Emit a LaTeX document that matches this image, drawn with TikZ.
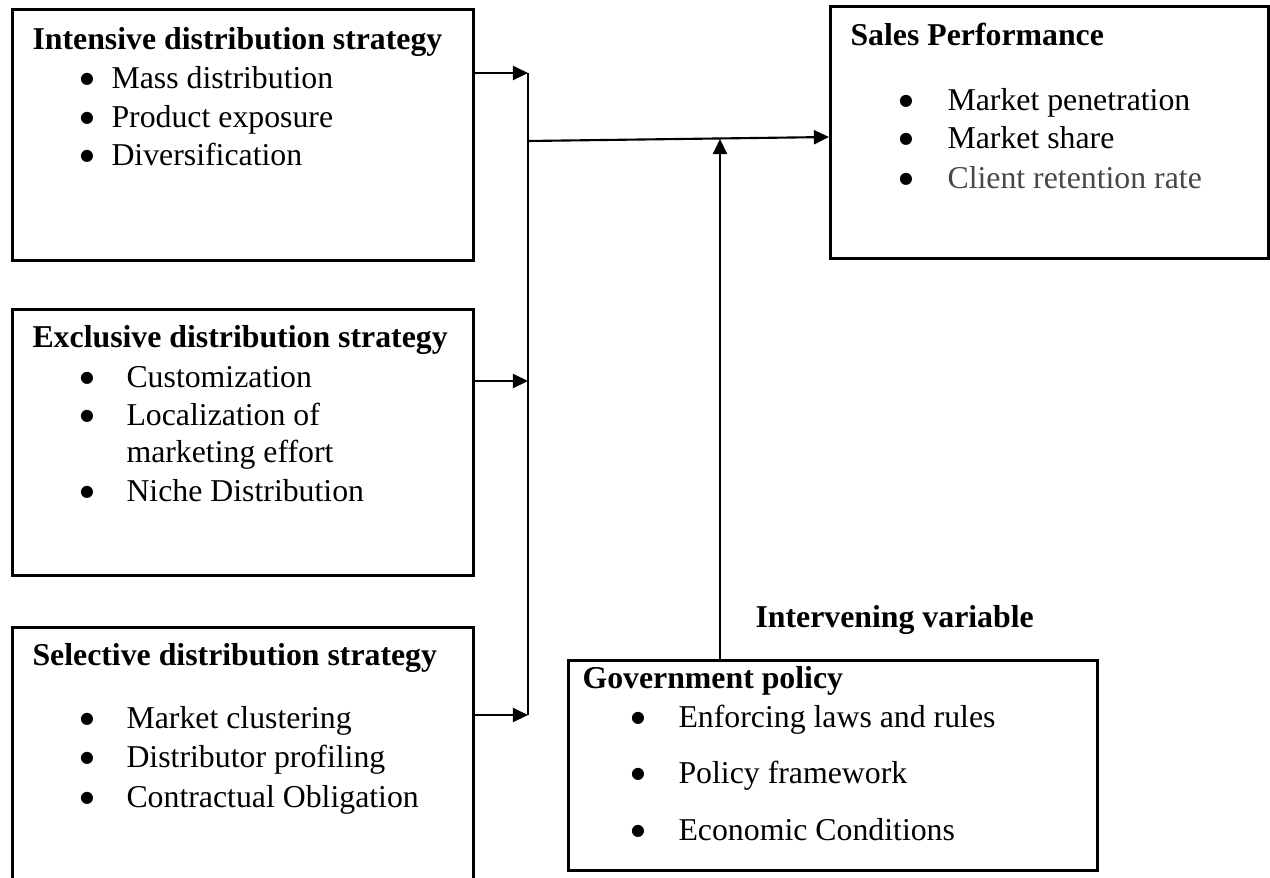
\documentclass[tikz,border=0pt]{standalone}
\usepackage{fontspec}
\setmainfont{Liberation Serif}
\newfontfamily\dotfont{DejaVu Sans}
\usetikzlibrary{arrows.meta,calc}
\newcommand\upx{0.3774pt}
\newcommand\bul{{\fontsize{6}{6}\dotfont ●}}
\begin{document}
\begin{tikzpicture}[x=0.3774pt,y=-0.3774pt,
  box/.style={draw,line width=0.95pt,inner sep=0,anchor=north west},
  txt/.style={anchor=base west,inner sep=0,font=\fontsize{12}{14}\selectfont},
  head/.style={anchor=base west,inner sep=0,font=\fontsize{12}{14}\selectfont\bfseries},
  dot/.style={anchor=base,inner sep=0,yshift=1.6pt},
  link/.style={line width=0.8pt,-{Triangle[length=5.7pt,width=5.3pt]}},
  trunk/.style={line width=0.55pt}]
\useasboundingbox (0,0) rectangle (1270,877);
\clip (0,0) rectangle (1270,877);

% ---- boxes ----
\node[box,minimum width=461*\upx,minimum height=251*\upx] (b1) at (11,8) {};
\node[box,minimum width=461*\upx,minimum height=266*\upx] (b2) at (11,308) {};
\node[box,minimum width=461*\upx,minimum height=290*\upx] (b3) at (11,626) {};
\node[box,minimum width=438*\upx,minimum height=252*\upx] (sp) at (829,5) {};
\node[box,minimum width=529*\upx,minimum height=210*\upx] (gp) at (567,659) {};

% ---- intensive ----
\node[head] (b1h) at (32,49) {Intensive distribution strategy};
\node[dot] (b1d1) at (87,88) {\bul};  \node[txt] (b1t1) at (111,88) {Mass distribution};
\node[dot] (b1d2) at (87,127) {\bul}; \node[txt] (b1t2) at (111,127) {Product exposure};
\node[dot] (b1d3) at (87,165) {\bul}; \node[txt] (b1t3) at (111,165) {Diversification};

% ---- exclusive ----
\node[head] (b2h) at (32,347) {Exclusive distribution strategy};
\node[dot] (b2d1) at (87,387) {\bul}; \node[txt] (b2t1) at (126,387) {Customization};
\node[dot] (b2d2) at (87,425) {\bul}; \node[txt] (b2t2) at (126,425) {Localization of};
\node[txt] (b2t3) at (126,462) {marketing effort};
\node[dot] (b2d4) at (87,501) {\bul}; \node[txt] (b2t4) at (126,501) {Niche Distribution};

% ---- selective ----
\node[head] (b3h) at (32,665) {Selective distribution strategy};
\node[dot] (b3d1) at (87,728) {\bul}; \node[txt] (b3t1) at (126,728) {Market clustering};
\node[dot] (b3d2) at (87,767) {\bul}; \node[txt] (b3t2) at (126,767) {Distributor profiling};
\node[dot] (b3d3) at (87,807) {\bul}; \node[txt] (b3t3) at (126,807) {Contractual Obligation};

% ---- sales performance ----
\node[head] (sph) at (850,45) {Sales Performance};
\node[dot] (spd1) at (906,110) {\bul}; \node[txt] (spt1) at (947,110) {Market penetration};
\node[dot] (spd2) at (906,148) {\bul}; \node[txt] (spt2) at (947,148) {Market share};
\node[dot] (spd3) at (906,188) {\bul}; \node[txt,text=black!72] (spt3) at (947,188) {Client retention rate};

% ---- government policy ----
\node[head] (iv) at (755,627) {Intervening variable};
\node[head] (gph) at (582,688) {Government policy};
\node[dot] (gpd1) at (638,727) {\bul}; \node[txt] (gpt1) at (678,727) {Enforcing laws and rules};
\node[dot] (gpd2) at (638,783) {\bul}; \node[txt] (gpt2) at (678,783) {Policy framework};
\node[dot] (gpd3) at (638,840) {\bul}; \node[txt] (gpt3) at (678,840) {Economic Conditions};

% ---- connectors ----
\coordinate (t1) at (528,73);
\coordinate (t2) at (528,381);
\coordinate (t3) at (528,715);
\coordinate (tj) at (528,141);
\coordinate (tv) at (720,139);
\draw[trunk] (t1) -- (t3);
\draw[link] (b1.east |- t1) -- (t1);
\draw[link] (b2.east |- t2) -- (t2);
\draw[link] (b3.east |- t3) -- (t3);
\draw[link] (tj) -- (sp.west |- 0,137);
\draw[link] (gp.north -| tv) -- (tv);
\end{tikzpicture}
\end{document}
